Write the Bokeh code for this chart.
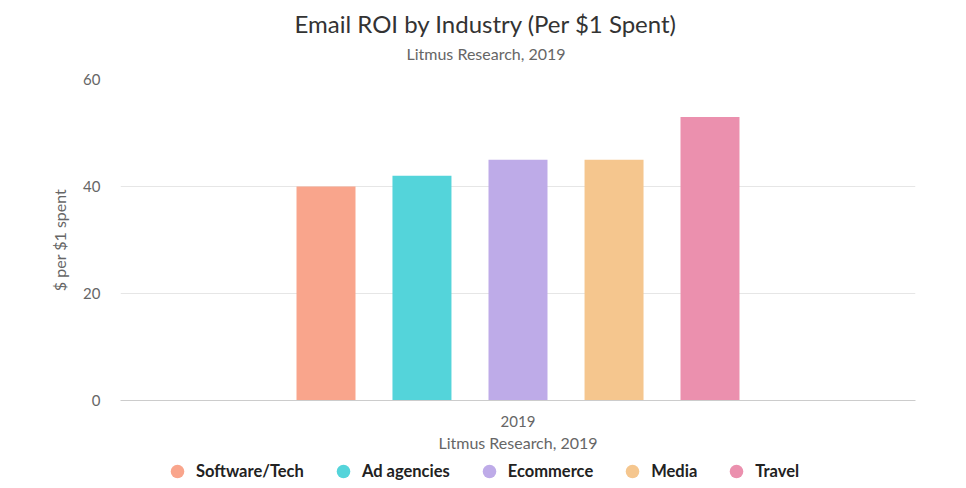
import math
from bokeh.plotting import figure
from bokeh.layouts import column
from bokeh.models import (FactorRange, Range1d, Title, Legend, LegendItem,
                          ColumnDataSource, FixedTicker)
from bokeh.transform import dodge
from bokeh.embed import file_html
from bokeh.resources import INLINE

# ---- data ----
year = ["2019"]
industries = ["Software/Tech", "Ad agencies", "Ecommerce", "Media", "Travel"]
roi = [40, 42, 45, 45, 53]
colors = ["#F9A58C", "#54D4DA", "#BEABE8", "#F5C68E", "#EB90AE"]
y_ticks = [0, 20, 40, 60]
title_text = "Email ROI by Industry (Per $1 Spent)"
subtitle_text = "Litmus Research, 2019"
y_label = "$ per $1 spent"
x_label = "Litmus Research, 2019"

FONT = "Lato"
W = 958

p = figure(width=W, height=454, output_backend="svg", toolbar_location=None,
           x_range=FactorRange(factors=year, range_padding=0),
           y_range=Range1d(0, 60), title=None,
           min_border_left=120, min_border_right=43,
           min_border_top=79, min_border_bottom=53)
p.outline_line_color = None
p.background_fill_color = "white"
p.border_fill_color = "white"

offsets = [-0.2415, -0.1208, 0.0, 0.1208, 0.2415]
bar_w = 0.0742
for name, v, c, off in zip(industries, roi, colors, offsets):
    src = ColumnDataSource(dict(x=year, top=[v]))
    p.vbar(x=dodge("x", off, range=p.x_range), top="top", width=bar_w,
           source=src, fill_color=c, line_color=None)

# axes
p.xgrid.grid_line_color = None
p.ygrid.grid_line_color = "#e6e6e6"
p.ygrid.ticker = FixedTicker(ticks=y_ticks)
p.yaxis.ticker = FixedTicker(ticks=y_ticks)
p.yaxis.axis_line_color = None
p.yaxis.major_tick_line_color = None
p.yaxis.minor_tick_line_color = None
p.yaxis.major_label_standoff = 14
p.yaxis.major_label_text_font = FONT
p.yaxis.major_label_text_font_size = "15px"
p.yaxis.major_label_text_color = "#666666"
p.yaxis.axis_label = y_label
p.yaxis.axis_label_text_font = FONT
p.yaxis.axis_label_text_font_style = "normal"
p.yaxis.axis_label_text_font_size = "16px"
p.yaxis.axis_label_text_color = "#666666"
p.yaxis.axis_label_standoff = 11

p.xaxis.axis_line_color = "#cccccc"
p.xaxis.major_tick_line_color = None
p.xaxis.minor_tick_line_color = None
p.xaxis.major_label_standoff = 9
p.xaxis.major_label_text_font = FONT
p.xaxis.major_label_text_font_size = "15px"
p.xaxis.major_label_text_color = "#666666"
p.xaxis.axis_label = x_label
p.xaxis.axis_label_text_font = FONT
p.xaxis.axis_label_text_font_style = "normal"
p.xaxis.axis_label_text_font_size = "16px"
p.xaxis.axis_label_text_color = "#666666"
p.xaxis.axis_label_standoff = 3

# subtitle (closest to plot) then title
p.add_layout(Title(text=subtitle_text, align="left", offset=286, standoff=34,
                   vertical_align="bottom", text_font=FONT, text_font_size="16px",
                   text_font_style="normal", text_color="#666666"), "above")
p.add_layout(Title(text=title_text, align="left", offset=174, standoff=-26,
                   vertical_align="bottom", text_font=FONT, text_font_size="24px",
                   text_font_style="normal", text_color="#333333"), "above")

# ---- legend strip (separate small figure below the chart) ----
lg = figure(width=W, height=34, output_backend="svg", toolbar_location=None,
            x_range=Range1d(0, 1), y_range=Range1d(0, 1),
            x_axis_location=None, y_axis_location=None,
            min_border=0, title=None)
lg.outline_line_color = None
lg.xgrid.visible = False
lg.ygrid.visible = False
items = []
for name, c in zip(industries, colors):
    r = lg.scatter(x=[0.5], y=[math.nan], marker="circle", size=14,
                   fill_color=c, line_color=None)
    items.append(LegendItem(label=name, renderers=[r]))
legend = Legend(items=items, orientation="horizontal", location=(40, 0),
                padding=0, margin=0, spacing=22, glyph_width=34, glyph_height=34,
                label_height=34, label_standoff=2, border_line_color=None,
                background_fill_alpha=0,
                label_text_font=FONT, label_text_font_style="bold",
                label_text_font_size="16.5px", label_text_color="#222222")
lg.add_layout(legend, "center")

layout = column(p, lg, spacing=0)
open("out.html", "w").write(file_html(layout, INLINE))
